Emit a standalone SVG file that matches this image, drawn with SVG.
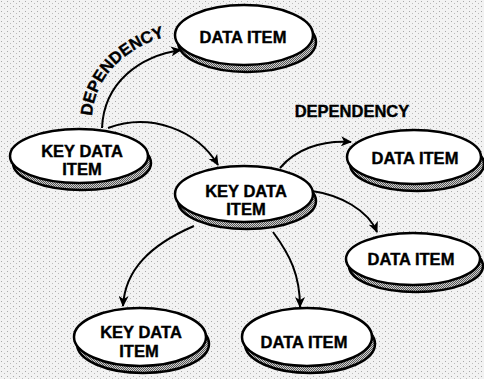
<svg xmlns="http://www.w3.org/2000/svg" width="484" height="379" viewBox="0 0 484 379">
<defs>
<pattern id="bg" width="6" height="5" patternUnits="userSpaceOnUse">
<rect width="6" height="5" fill="#f2f2f2"/>
<rect x="1" y="1" width="1" height="1" fill="#a8a8a8"/>
<rect x="4" y="3" width="1" height="1" fill="#bcbcbc"/>
</pattern>
<pattern id="hatch" width="2" height="2" patternUnits="userSpaceOnUse">
<rect width="2" height="2" fill="#d0d0d0"/>
<rect x="0" y="0" width="1" height="1" fill="#555"/>
<rect x="1" y="1" width="1" height="1" fill="#555"/>
</pattern>
<marker id="arr" markerUnits="userSpaceOnUse" markerWidth="12" markerHeight="10" refX="10" refY="5" orient="auto">
<path d="M0,0 L11,5 L0,10 L3,5 z" fill="#000"/>
</marker>
</defs>
<style>
.sh{fill:url(#hatch);stroke:#000;stroke-width:2.5}
.top{fill:#fff;stroke:#000;stroke-width:2.5}
.t{font-family:"Liberation Sans",Arial,Helvetica,sans-serif;font-weight:bold;font-size:16.5px;fill:#000;stroke:#000;stroke-width:0.4;text-anchor:middle}
.c{fill:none;stroke:#000;stroke-width:2;marker-end:url(#arr)}
</style>
<rect width="484" height="379" fill="url(#bg)"/>

<g id="connectors">
<path class="c" d="M102,128 C104,82 140,56 181,50"/>
<path class="c" d="M108,128 C150,112 197,130 218,165"/>
<path class="c" d="M280,168 C295,150 320,140 351,142"/>
<path class="c" d="M312,191 C340,195 368,210 377,232"/>
<path class="c" d="M194,226 C150,245 125,270 123,306"/>
<path class="c" d="M273,232 C290,255 300,275 300,307"/>
<path id="depPath" d="M92,116 C95,75 128,45 172,35" fill="none"/>
<text class="t" style="text-anchor:start"><textPath href="#depPath">DEPENDENCY</textPath></text>
<text class="t" x="352" y="117">DEPENDENCY</text>
</g>

<g id="n1">
<ellipse class="sh" cx="247" cy="42" rx="69" ry="30"/>
<ellipse class="top" cx="244" cy="35" rx="69" ry="30"/>
<text class="t" x="243" y="43">DATA ITEM</text>
</g>
<g id="n2">
<ellipse class="sh" cx="82" cy="163" rx="69" ry="27"/>
<ellipse class="top" cx="79" cy="156" rx="69" ry="27"/>
<text class="t" x="82" y="157">KEY DATA</text>
<text class="t" x="82" y="175">ITEM</text>
</g>
<g id="n3">
<ellipse class="sh" cx="247" cy="201" rx="69" ry="28"/>
<ellipse class="top" cx="244" cy="194" rx="69" ry="28"/>
<text class="t" x="246" y="197">KEY DATA</text>
<text class="t" x="246" y="215">ITEM</text>
</g>
<g id="n4">
<ellipse class="sh" cx="417" cy="164" rx="67" ry="27"/>
<ellipse class="top" cx="414" cy="157" rx="67" ry="27"/>
<text class="t" x="415" y="164">DATA ITEM</text>
</g>
<g id="n5">
<ellipse class="sh" cx="416" cy="266" rx="67" ry="26"/>
<ellipse class="top" cx="413" cy="259" rx="67" ry="26"/>
<text class="t" x="411" y="265">DATA ITEM</text>
</g>
<g id="n6">
<ellipse class="sh" cx="143" cy="344" rx="66" ry="29"/>
<ellipse class="top" cx="140" cy="337" rx="66" ry="29"/>
<text class="t" x="141" y="338">KEY DATA</text>
<text class="t" x="139" y="357">ITEM</text>
</g>
<g id="n7">
<ellipse class="sh" cx="310" cy="344" rx="65" ry="29"/>
<ellipse class="top" cx="307" cy="337" rx="65" ry="29"/>
<text class="t" x="304" y="348">DATA ITEM</text>
</g>
</svg>
